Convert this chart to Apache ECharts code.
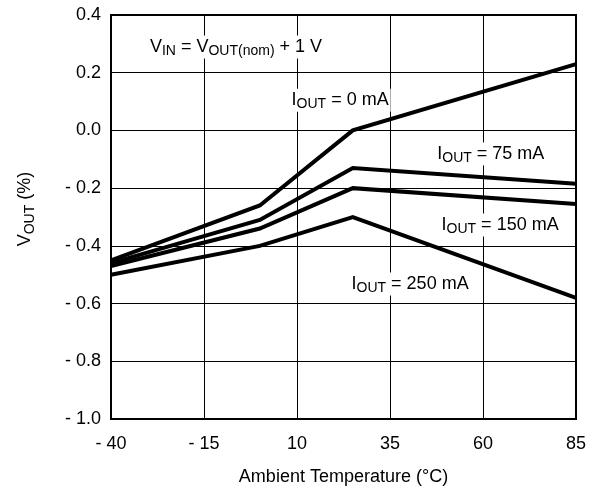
<!DOCTYPE html>
<html>
<head>
<meta charset="utf-8">
<script src="https://cdn.jsdelivr.net/npm/echarts@6/dist/echarts.min.js"></script>
<style>
  html, body { margin: 0; padding: 0; background: #fff; }
  #chart { width: 600px; height: 491px; }
</style>
</head>
<body>
<div id="chart"></div>
<script>
// Output voltage change vs ambient temperature, one line per load current.
const TEMPS = [-40, 0, 25, 85];                 // °C
const V_0MA = [-0.45, -0.26, 0.0, 0.23];       // VOUT %
const V_75MA = [-0.46, -0.31, -0.13, -0.185];
const V_150MA = [-0.47, -0.34, -0.20, -0.255];
const V_250MA = [-0.50, -0.40, -0.30, -0.58];

const X_TICKS = [-40, -15, 10, 35, 60, 85];
const Y_MIN = -1.0, Y_MAX = 0.4, Y_STEP = 0.2;

// ECharts counts ticks from min, so the x axis runs 0..125 and labels are shifted back.
const X_SHIFT = -X_TICKS[0];

const SERIES = [
  { name: '0 mA',   values: V_0MA,   label: '{m|I}{s|OUT}{m| = 0 mA}',   at: [21.6, 0.105] },
  { name: '75 mA',  values: V_75MA,  label: '{m|I}{s|OUT}{m| = 75 mA}',  at: [62.1, -0.082] },
  { name: '150 mA', values: V_150MA, label: '{m|I}{s|OUT}{m| = 150 mA}', at: [64.6, -0.328] },
  { name: '250 mA', values: V_250MA, label: '{m|I}{s|OUT}{m| = 250 mA}', at: [40.4, -0.532] },
];
const NOTE = { label: '{m|V}{s|IN}{m| = V}{s|OUT(nom)}{m| + 1 V}', at: [-6.4, 0.289] };

const FONT = '"Liberation Sans", Arial, Helvetica, sans-serif';
const RICH = {
  m: { fontFamily: FONT, fontSize: 18, color: '#000' },
  s: { fontFamily: FONT, fontSize: 14, color: '#000', padding: [9, 0, 0, 0] },
};

function fmtNum(v, digits) {
  if (Math.abs(v) < 1e-9) return (0).toFixed(digits);
  return v < 0 ? '- ' + Math.abs(v).toFixed(digits) : v.toFixed(digits);
}

function notePoint(txt, at) {
  return {
    coord: [at[0] + X_SHIFT, at[1]],
    symbolSize: 0,
    label: {
      show: true,
      position: 'inside',
      formatter: txt,
      rich: RICH,
      backgroundColor: '#fff',
      padding: [0, 2],
    },
  };
}

const series = SERIES.map((s, i) => {
  const pts = [notePoint(s.label, s.at)];
  if (i === 0) pts.push(notePoint(NOTE.label, NOTE.at));
  return {
    name: s.name,
    type: 'line',
    showSymbol: false,
    symbol: 'none',
    lineStyle: { color: '#000', width: 4, join: 'miter' },
    data: TEMPS.map((t, k) => [t + X_SHIFT, s.values[k]]),
    markPoint: { silent: true, animation: false, data: pts },
    z: 3,
  };
});

const chart = echarts.init(document.getElementById('chart'), null, { renderer: 'canvas' });
chart.setOption({
  animation: false,
  backgroundColor: '#fff',
  textStyle: { fontFamily: FONT, color: '#000' },
  grid: {
    left: 111, right: 24, top: 15, bottom: 72,
    show: true, borderColor: '#000', borderWidth: 2, backgroundColor: 'transparent',
  },
  xAxis: {
    type: 'value',
    min: 0,
    max: X_TICKS[X_TICKS.length - 1] + X_SHIFT,
    interval: X_TICKS[1] - X_TICKS[0],
    axisLine: { show: false },
    axisTick: { show: false },
    splitLine: { show: true, lineStyle: { color: '#000', width: 1 } },
    axisLabel: {
      color: '#000', fontFamily: FONT, fontSize: 18, margin: 16,
      formatter: v => fmtNum(v - X_SHIFT, 0),
    },
    name: 'Ambient Temperature (°C)',
    nameLocation: 'middle',
    nameGap: 49,
    nameTextStyle: { color: '#000', fontFamily: FONT, fontSize: 18 },
  },
  yAxis: {
    type: 'value',
    min: Y_MIN,
    max: Y_MAX,
    interval: Y_STEP,
    axisLine: { show: false },
    axisTick: { show: false },
    splitLine: { show: true, lineStyle: { color: '#000', width: 1 } },
    axisLabel: {
      color: '#000', fontFamily: FONT, fontSize: 18, margin: 10,
      formatter: v => fmtNum(v, 1),
    },
    name: '{m|V}{s|OUT}{m| (%)}',
    nameLocation: 'middle',
    nameGap: 74,
    nameRotate: 90,
    nameTextStyle: { rich: RICH, padding: [0, 0, 0, 16] },
  },
  series,
});
</script>
</body>
</html>
